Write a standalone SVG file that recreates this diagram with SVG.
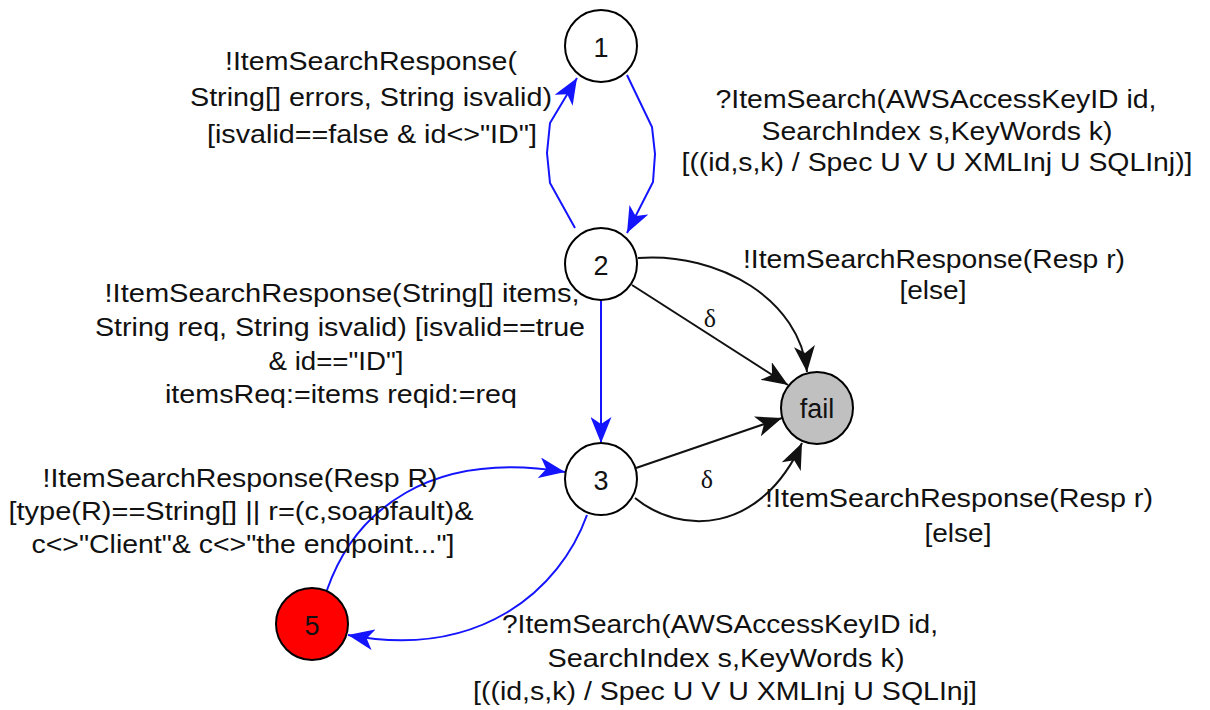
<svg xmlns="http://www.w3.org/2000/svg" width="1210" height="710" viewBox="0 0 1210 710">
<style>
.node{stroke:#000;stroke-width:2}
.lbl{font-family:"Liberation Sans",Arial,sans-serif;font-size:26px;fill:#111;text-anchor:middle}
.nl{font-family:"Liberation Sans",Arial,sans-serif;font-size:27px;fill:#111;text-anchor:middle}
.dl{font-family:"Liberation Serif","Times New Roman",serif;font-size:26px;fill:#111;text-anchor:middle}
.b{fill:none;stroke:#1414ff;stroke-width:2}
.k{fill:none;stroke:#111;stroke-width:2}
</style>
<defs>
<marker id="ab" markerUnits="userSpaceOnUse" viewBox="0 0 26 21" refX="26" refY="10.5" markerWidth="26" markerHeight="21" orient="auto">
<path d="M0,0 L26,10.5 L0,21 L7,10.5 Z" fill="#1414ff"/>
</marker>
<marker id="ak" markerUnits="userSpaceOnUse" viewBox="0 0 26 21" refX="26" refY="10.5" markerWidth="26" markerHeight="21" orient="auto">
<path d="M0,0 L26,10.5 L0,21 L7,10.5 Z" fill="#111"/>
</marker>
</defs>
<rect width="1210" height="710" fill="#fff"/>
<g id="connectors">
<path class="b" d="M627,75 L652,127 L655,154 L653,182 L627,233" marker-end="url(#ab)"/>
<path class="b" d="M575,228 L550,183 L547,153 L550,123 L577,78" marker-end="url(#ab)"/>
<path class="b" d="M601,300 L601,443" marker-end="url(#ab)"/>
<path class="k" d="M632,285 L788,385" marker-end="url(#ak)"/>
<path class="k" d="M638,258 C720,252 800,300 807,372" marker-end="url(#ak)"/>
<path class="k" d="M636,468 L782,418" marker-end="url(#ak)"/>
<path class="k" d="M635,498 C680,535 760,535 802,443" marker-end="url(#ak)"/>
<path class="b" d="M327,590 C355,510 430,450 565,472" marker-end="url(#ab)"/>
<path class="b" d="M587,515 C560,590 480,660 348,635" marker-end="url(#ab)"/>
<text class="dl" x="710" y="327">δ</text>
<text class="dl" x="707" y="488">δ</text>
</g>
<g id="labels">
<text class="lbl" lengthAdjust="spacingAndGlyphs" x="371" y="70" textLength="292">!ItemSearchResponse(</text>
<text class="lbl" lengthAdjust="spacingAndGlyphs" x="371" y="106" textLength="362">String[] errors, String isvalid)</text>
<text class="lbl" lengthAdjust="spacingAndGlyphs" x="372" y="143" textLength="330">[isvalid==false &amp; id&lt;&gt;"ID"]</text>

<text class="lbl" lengthAdjust="spacingAndGlyphs" x="936" y="108" textLength="441">?ItemSearch(AWSAccessKeyID id,</text>
<text class="lbl" lengthAdjust="spacingAndGlyphs" x="937" y="140" textLength="351">SearchIndex s,KeyWords k)</text>
<text class="lbl" lengthAdjust="spacingAndGlyphs" x="937" y="171" textLength="511">[((id,s,k) / Spec U V U XMLInj U SQLInj)]</text>

<text class="lbl" lengthAdjust="spacingAndGlyphs" x="934" y="268" textLength="382">!ItemSearchResponse(Resp r)</text>
<text class="lbl" lengthAdjust="spacingAndGlyphs" x="933" y="299" textLength="67">[else]</text>

<text class="lbl" lengthAdjust="spacingAndGlyphs" x="342" y="302" textLength="475">!ItemSearchResponse(String[] items,</text>
<text class="lbl" lengthAdjust="spacingAndGlyphs" x="340" y="336" textLength="490">String req, String isvalid) [isvalid==true</text>
<text class="lbl" lengthAdjust="spacingAndGlyphs" x="336" y="370" textLength="135">&amp; id=="ID"]</text>
<text class="lbl" lengthAdjust="spacingAndGlyphs" x="341" y="403" textLength="352">itemsReq:=items reqid:=req</text>

<text class="lbl" lengthAdjust="spacingAndGlyphs" x="240" y="487" textLength="395">!ItemSearchResponse(Resp R)</text>
<text class="lbl" lengthAdjust="spacingAndGlyphs" x="241" y="520" textLength="465">[type(R)==String[] || r=(c,soapfault)&amp;</text>
<text class="lbl" lengthAdjust="spacingAndGlyphs" x="243" y="553" textLength="423">c&lt;&gt;"Client"&amp; c&lt;&gt;"the endpoint..."]</text>

<text class="lbl" lengthAdjust="spacingAndGlyphs" x="959" y="507" textLength="388">!ItemSearchResponse(Resp r)</text>
<text class="lbl" lengthAdjust="spacingAndGlyphs" x="958" y="542" textLength="67">[else]</text>

<text class="lbl" lengthAdjust="spacingAndGlyphs" x="720" y="633" textLength="436">?ItemSearch(AWSAccessKeyID id,</text>
<text class="lbl" lengthAdjust="spacingAndGlyphs" x="726" y="667" textLength="357">SearchIndex s,KeyWords k)</text>
<text class="lbl" lengthAdjust="spacingAndGlyphs" x="725" y="700" textLength="504">[((id,s,k) / Spec U V U XMLInj U SQLInj]</text>
</g>
<g id="node1"><circle class="node" cx="601" cy="46" r="36" fill="#fff"/><text class="nl" x="601" y="57">1</text></g>
<g id="node2"><circle class="node" cx="601" cy="264" r="36" fill="#fff"/><text class="nl" x="601" y="275">2</text></g>
<g id="node3"><circle class="node" cx="601" cy="479" r="36" fill="#fff"/><text class="nl" x="601" y="490">3</text></g>
<g id="nodefail"><circle class="node" cx="817" cy="408" r="36" fill="#c0c0c0"/><text class="nl" x="817" y="418">fail</text></g>
<g id="node5"><circle class="node" cx="312" cy="624" r="36" fill="#ff0000"/><text class="nl" x="312" y="635">5</text></g>
</svg>
